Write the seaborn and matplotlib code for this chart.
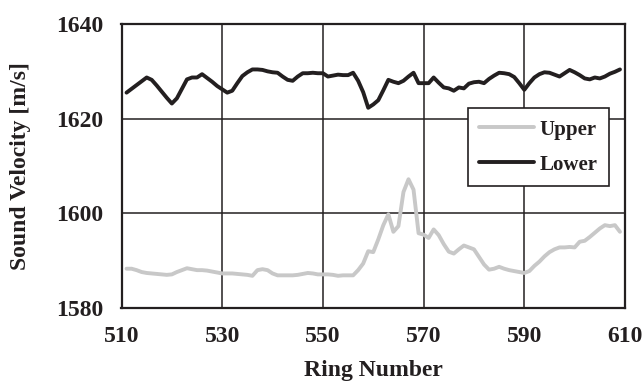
import numpy as np
import pandas as pd
import matplotlib
matplotlib.use("Agg")
import matplotlib.pyplot as plt
import seaborn as sns

rings = list(range(511, 610))

lower = [1625.5, 1626.3, 1627.1, 1627.9, 1628.7, 1628.2, 1627.0, 1625.7, 1624.4, 1623.2,
         1624.3, 1626.3, 1628.3, 1628.7, 1628.7, 1629.4, 1628.6, 1627.8, 1626.9, 1626.2,
         1625.5, 1625.9, 1627.5, 1629.0, 1629.8, 1630.4, 1630.4, 1630.3, 1630.0, 1629.8,
         1629.7, 1628.9, 1628.2, 1628.0, 1628.9, 1629.6, 1629.6, 1629.7, 1629.6, 1629.6,
         1628.9, 1629.1, 1629.3, 1629.2, 1629.2, 1629.7, 1628.0, 1625.6, 1622.3, 1623.0,
         1623.9, 1626.0, 1628.2, 1627.8, 1627.5, 1628.0, 1628.9, 1629.7, 1627.5, 1627.5,
         1627.5, 1628.7, 1627.6, 1626.6, 1626.4, 1625.9, 1626.6, 1626.4, 1627.4, 1627.7,
         1627.8, 1627.5, 1628.4, 1629.1, 1629.7, 1629.6, 1629.4, 1628.8, 1627.5, 1626.1,
         1627.5, 1628.7, 1629.4, 1629.8, 1629.7, 1629.3, 1628.9, 1629.6, 1630.3, 1629.8,
         1629.2, 1628.5, 1628.3, 1628.7, 1628.5, 1628.9, 1629.5, 1629.9, 1630.4]

upper = [1588.3, 1588.3, 1588.0, 1587.6, 1587.4, 1587.3, 1587.2, 1587.1, 1587.0, 1587.1,
         1587.6, 1588.0, 1588.4, 1588.2, 1588.0, 1588.0, 1587.9, 1587.7, 1587.5, 1587.3,
         1587.3, 1587.3, 1587.2, 1587.1, 1587.0, 1586.8, 1588.0, 1588.2, 1588.0, 1587.3,
         1586.9, 1586.9, 1586.9, 1586.9, 1587.0, 1587.2, 1587.4, 1587.3, 1587.1, 1587.1,
         1587.1, 1587.0, 1586.8, 1586.9, 1586.9, 1586.9, 1588.0, 1589.4, 1592.0, 1591.8,
         1594.5, 1597.5, 1599.8, 1596.1, 1597.3, 1604.5, 1607.2, 1605.0, 1595.8, 1595.5,
         1594.8, 1596.6, 1595.4, 1593.5, 1591.9, 1591.5, 1592.4, 1593.2, 1592.8, 1592.4,
         1590.8, 1589.2, 1588.1, 1588.3, 1588.7, 1588.3, 1588.0, 1587.8, 1587.6, 1587.4,
         1587.8, 1588.9, 1589.8, 1590.9, 1591.8, 1592.4, 1592.8, 1592.8, 1592.9, 1592.8,
         1594.0, 1594.2, 1595.0, 1595.9, 1596.8, 1597.5, 1597.3, 1597.5, 1596.1]

series_names = ["Upper", "Lower"]
x_ticks = [510, 530, 550, 570, 590, 610]
y_ticks = [1580, 1600, 1620, 1640]

df = pd.DataFrame({
    "Ring": rings * 2,
    "Velocity": upper + lower,
    "Series": ["Upper"] * len(rings) + ["Lower"] * len(rings),
})

sns.set_style("white")
plt.rcParams["font.family"] = ["Liberation Serif", "DejaVu Serif"]
plt.rcParams["font.weight"] = "bold"

fig = plt.figure(figsize=(6.44, 3.83), dpi=100)
ax = fig.add_axes([121.5 / 644, 1 - 308 / 383, (625 - 121.5) / 644, (308 - 24) / 383])

sns.lineplot(data=df, x="Ring", y="Velocity", hue="Series", hue_order=series_names,
             palette={"Upper": "#c8c8c8", "Lower": "#231f20"}, linewidth=2.8, ax=ax,
             zorder=3)

ax.set_xlim(510, 610)
ax.set_ylim(1580, 1640)
ax.set_xticks(x_ticks)
ax.set_yticks(y_ticks)
ax.grid(True, color="#231f20", linewidth=1.1)
ax.set_axisbelow(True)
for s in ax.spines.values():
    s.set_color("#231f20")
    s.set_linewidth(1.6)
    s.set_visible(True)
ax.tick_params(axis="both", length=0, labelsize=17, pad=13, colors="#231f20")
for lab in ax.get_xticklabels() + ax.get_yticklabels():
    lab.set_fontweight("bold")
ax.set_xlabel("Ring Number", fontsize=17, fontweight="bold", labelpad=9, color="#231f20")
ax.set_ylabel("Sound Velocity [m/s]", fontsize=17, fontweight="bold", labelpad=18, color="#231f20")

leg = ax.legend(loc="upper right", bbox_to_anchor=(0.968, 0.704), borderaxespad=0,
                frameon=True, fancybox=False, edgecolor="#231f20", framealpha=1,
                prop={"size": 15, "weight": "bold"}, handlelength=2.65, handletextpad=0.25,
                borderpad=0.55, labelspacing=0.72)
leg.get_frame().set_linewidth(1.2)
for t in leg.get_texts():
    t.set_color("#231f20")

fig.savefig("out.png", dpi=100)
